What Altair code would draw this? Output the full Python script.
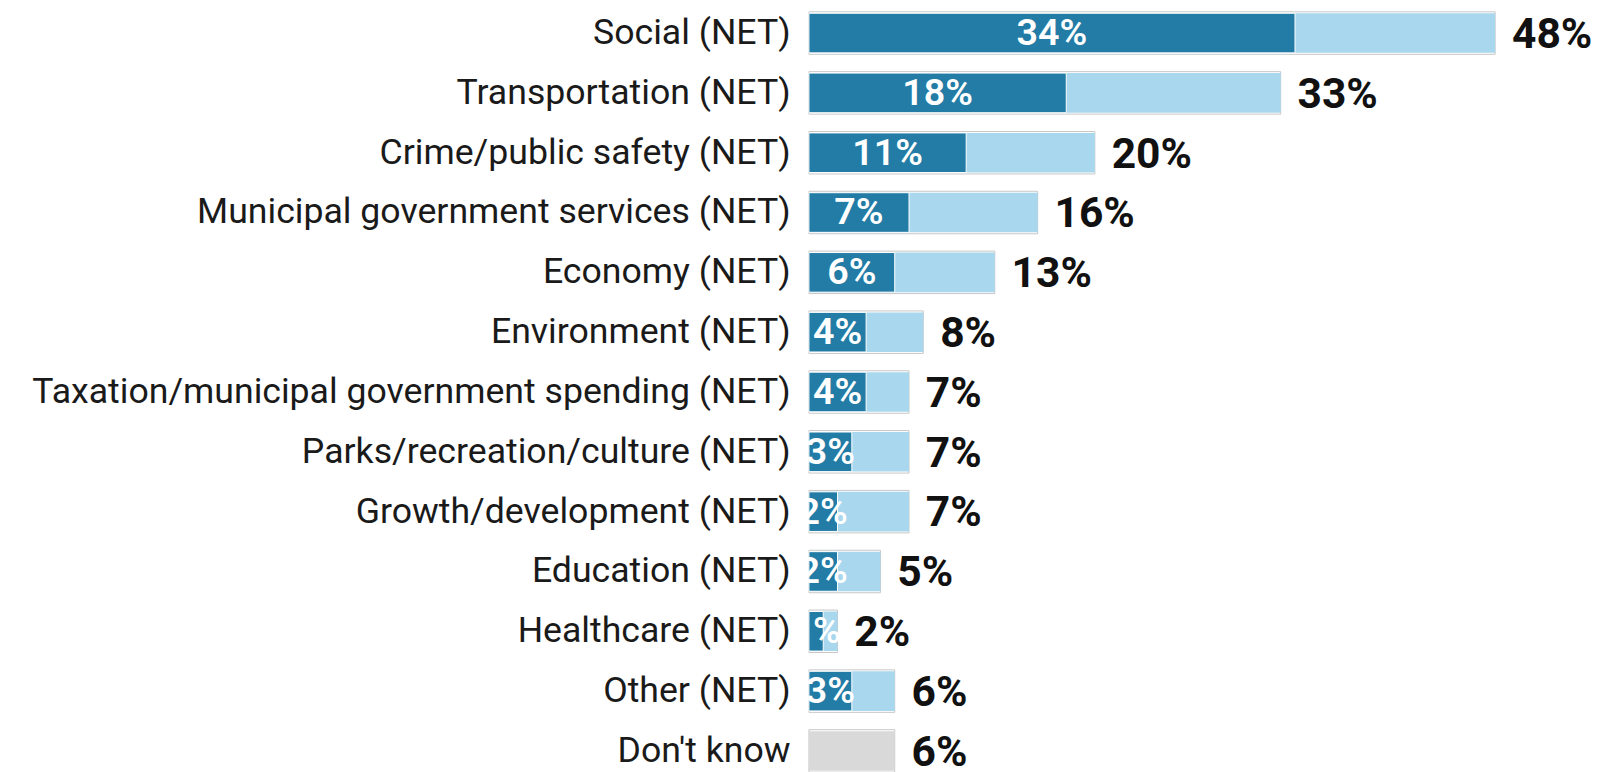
import altair as alt
import pandas as pd

categories = [
    "Social (NET)",
    "Transportation (NET)",
    "Crime/public safety (NET)",
    "Municipal government services (NET)",
    "Economy (NET)",
    "Environment (NET)",
    "Taxation/municipal government spending (NET)",
    "Parks/recreation/culture (NET)",
    "Growth/development (NET)",
    "Education (NET)",
    "Healthcare (NET)",
    "Other (NET)",
    "Don't know",
]
first_mention = [34, 18, 11, 7, 6, 4, 4, 3, 2, 2, 1, 3, None]
total_mention = [48, 33, 20, 16, 13, 8, 7, 7, 7, 5, 2, 6, 6]
kinds = ["net"] * 12 + ["dk"]

df = pd.DataFrame({
    "cat": categories,
    "first": first_mention,
    "total": total_mention,
    "kind": kinds,
})
df["first_mid"] = df["first"] / 2
df["total_label"] = df["total"].map(lambda v: f"{v:.0f}%")
df["first_label"] = df["first"].map(lambda v: "" if pd.isna(v) else f"{v:.0f}%")

FONT = "Roboto"
DARK = "#227ca6"
LIGHT = "#a9d8ee"
GREY = "#d9d9d9"

y_enc = alt.Y(
    "cat:N",
    sort=categories,
    title=None,
    scale=alt.Scale(paddingInner=0.29, paddingOuter=0),
    axis=alt.Axis(
        labelFont=FONT,
        labelFontSize=36,
        labelColor="#1a1a1a",
        labelPadding=19,
        labelLimit=2000,
        ticks=False,
        domain=False,
        grid=False,
    ),
)
x_scale = alt.Scale(domain=[0, 50])

base = alt.Chart(df)

outer = base.mark_bar(fill="white", stroke="#c6c6c6", strokeWidth=1).encode(
    y=y_enc,
    x=alt.X("total:Q", scale=x_scale, axis=None),
)

inner = base.mark_bar(size=40).encode(
    y=alt.Y("cat:N", sort=categories),
    x=alt.X("total:Q", scale=x_scale, axis=None),
    color=alt.Color("kind:N", scale=alt.Scale(domain=["net", "dk"], range=[LIGHT, GREY]), legend=None),
)

dark = base.transform_filter("datum.first != null").mark_bar(
    size=40, color=DARK, stroke="white", strokeWidth=1
).encode(
    y=alt.Y("cat:N", sort=categories),
    x=alt.X("first:Q", scale=x_scale, axis=None),
)

dark_text = base.transform_filter("datum.first != null").mark_text(
    font=FONT, fontSize=38, fontWeight=600, color="white", align="center", baseline="middle", dy=1
).encode(
    y=alt.Y("cat:N", sort=categories),
    x=alt.X("first_mid:Q", scale=x_scale, axis=None),
    text="first_label:N",
)

total_text = base.mark_text(
    font=FONT, fontSize=43, fontWeight="bold", color="#111111", align="left", baseline="middle", dx=17, dy=2
).encode(
    y=alt.Y("cat:N", sort=categories),
    x=alt.X("total:Q", scale=x_scale, axis=None),
    text="total_label:N",
)

chart = alt.layer(outer, inner, dark, dark_text, total_text).properties(
    width=722,
    height=768,
    autosize=alt.AutoSizeParams(type="none"),
    padding={"left": 809, "top": 0, "right": 73, "bottom": 0},
).configure_view(stroke=None)

chart.save("out.html", embed_options={"renderer": "svg", "actions": False})
